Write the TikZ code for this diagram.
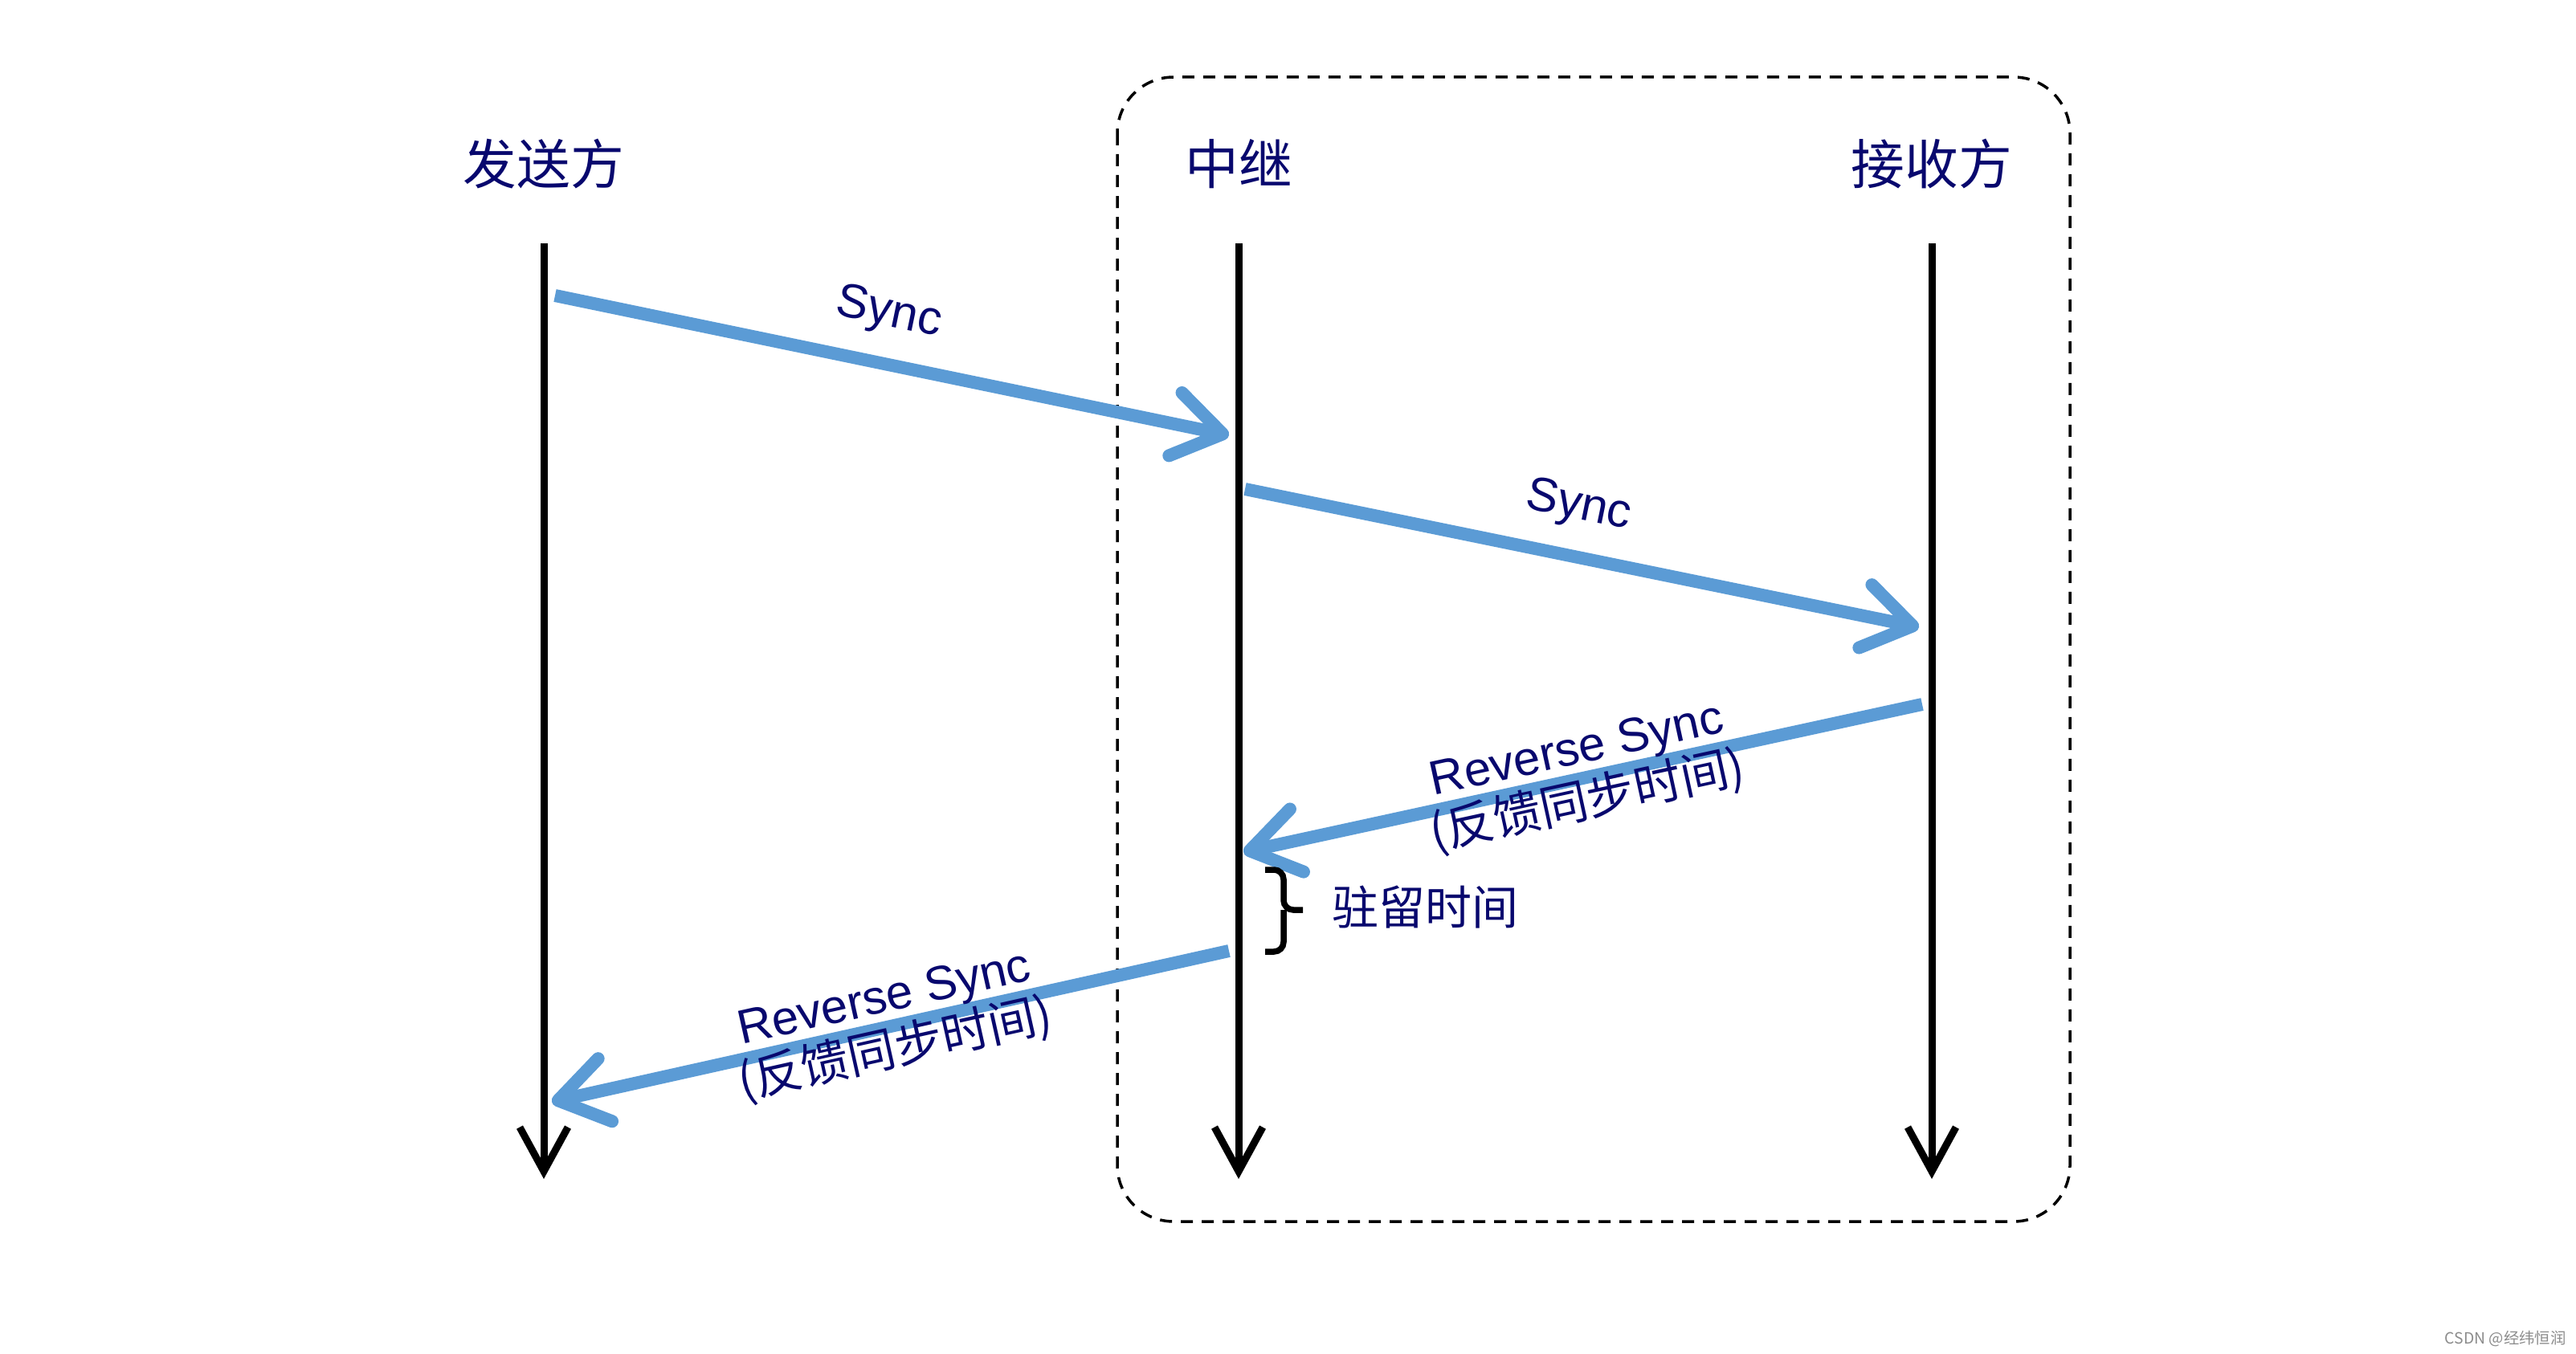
\documentclass[tikz,border=0pt]{standalone}
\usepackage{fontspec}
\setmainfont{Liberation Sans}
\newfontfamily\cjk{Noto Sans CJK SC}
\usepackage{xcolor}
\usetikzlibrary{arrows.meta}
\definecolor{labelnavy}{RGB}{8,8,110}
\definecolor{msgblue}{RGB}{91,155,213}
\tikzset{
  party/.style    ={font=\cjk\fontsize{19pt}{22pt}\selectfont,text=labelnavy,inner sep=0pt},
  lifeline/.style ={line width=0.9mm,-{Straight Barb[length=5.5mm,width=6mm]}},
  msg/.style      ={line width=1.6mm,draw=msgblue,-{Straight Barb[length=6mm,width=8mm,round]}},
  msglbl/.style   ={font=\fontsize{17pt}{20pt}\selectfont,text=labelnavy,sloped},
  twolbl/.style   ={msglbl,align=center,inner sep=0pt},
  relaybox/.style ={draw,dash pattern=on 1.5mm off 1.1mm,rounded corners=7mm,line width=0.35mm},
  dwellbrace/.style={line width=0.75mm,rounded corners=1.2mm},
  dwelllbl/.style ={font=\cjk\fontsize{16.5pt}{20pt}\selectfont,text=labelnavy,inner sep=0pt},
  watermark/.style={font=\cjk\fontsize{5.5pt}{6pt}\selectfont,text=black!45,inner sep=0pt},
}
\begin{document}
\begin{tikzpicture}
  \useasboundingbox (0,0) rectangle (32.07,-16.86);
  % relay frame
  \draw[relaybox] (13.91,-0.96) rectangle (25.77,-15.21);
  % parties and their lifelines
  \node[party](tx) at (6.77,-2.04){发送方};  \node[party](rly) at (15.42,-2.04){中继};  \node[party](rx) at (24.05,-2.04){接收方};
  \coordinate(tx0) at (6.77,-3.03);   \coordinate(tx1) at (6.77,-14.68);
  \coordinate(rly0) at (15.42,-3.03); \coordinate(rly1) at (15.42,-14.68);
  \coordinate(rx0) at (24.05,-3.03);  \coordinate(rx1) at (24.05,-14.68);
  \foreach \n in {tx,rly,rx}{\draw[lifeline](\n0)--(\n1);}
  % message end points
  \coordinate(a1) at (6.91,-3.68);  \coordinate(a2) at (15.30,-5.42);
  \coordinate(b1) at (15.50,-6.09); \coordinate(b2) at (23.89,-7.81);
  \coordinate(c1) at (23.93,-8.77); \coordinate(c2) at (15.48,-10.61);
  \coordinate(d1) at (15.30,-11.84);\coordinate(d2) at (6.87,-13.72);
  \draw[msg](a1)--node[msglbl,above=1.5mm,pos=0.48](sync1){Sync}(a2);
  \draw[msg](b1)--node[msglbl,above=1.5mm,pos=0.48](sync2){Sync}(b2);
  \draw[msg](c1)--node[twolbl](rev1){Reverse Sync\\[-1pt]{\cjk (反馈同步时间)}}(c2);
  \draw[msg](d1)--node[twolbl](rev2){Reverse Sync\\[-1pt]{\cjk (反馈同步时间)}}(d2);
  % dwell time
  \coordinate(w0) at (15.75,-10.83); \coordinate(wm) at (15.98,-11.33);
  \coordinate(wt) at (16.22,-11.33); \coordinate(w1) at (15.75,-11.85);
  \draw[dwellbrace](w0)-|(wm)--(wt);
  \draw[dwellbrace](w1)-|(wm);
  \node[dwelllbl,anchor=west](dwell) at (16.58,-11.29){驻留时间};
  \node[watermark,anchor=east](csdn) at (31.95,-16.67){CSDN @经纬恒润};
\end{tikzpicture}
\end{document}
